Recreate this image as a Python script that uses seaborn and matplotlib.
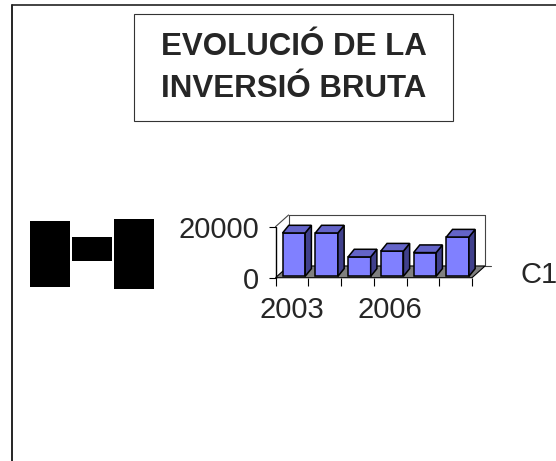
import numpy as np
import pandas as pd
import matplotlib
matplotlib.use("Agg")
import matplotlib.pyplot as plt
import matplotlib.transforms as mtransforms
from matplotlib.patches import Rectangle, Polygon
from matplotlib.lines import Line2D
import seaborn as sns

# ---------------- data ----------------
years = ["2003", "2004", "2005", "2006", "2007", "2008"]
inversio = [17000, 17000, 7600, 9900, 9300, 15400]
shown_years = ["2003", "2006"]
y_ticks = [0, 20000]
series_name = "C1"
title = "EVOLUCIÓ DE LA\nINVERSIÓ BRUTA"

# ---------------- style ----------------
FRONT = "#8080FF"
TOP = "#6464C8"
SIDE = "#40408C"
FLOOR = "#808080"
FS = 21

sns.set_style("white")
plt.rcParams["font.family"] = ["Liberation Sans", "DejaVu Sans"]

W, H = 556, 461
fig = plt.figure(figsize=(W / 100, H / 100), dpi=100)


def fx(x):
    return x / W


def fy(y):
    return 1 - y / H


# frame lines (top + left)
fig.add_artist(Line2D([fx(12), fx(12)], [0, fy(5)], color="black", lw=1.2,
                      transform=fig.transFigure))
fig.add_artist(Line2D([fx(12), 1], [fy(5), fy(5)], color="#222222", lw=1.2,
                      transform=fig.transFigure))

# title box
fig.add_artist(Rectangle((fx(134), fy(121)), (453 - 134) / W, (121 - 14) / H,
                         transform=fig.transFigure, fill=False,
                         edgecolor="#333333", lw=0.8))
fig.text(fx(293.5), fy(68), title, ha="center", va="center", fontsize=22.5,
         fontweight="bold", linespacing=1.5, multialignment="center")

# black blocks at the left
for x0, y0, x1, y1 in [(30, 220.7, 70, 287.3), (72, 236.7, 112, 261),
                       (114, 219, 154, 289)]:
    fig.add_artist(Rectangle((fx(x0), fy(y1)), (x1 - x0) / W, (y1 - y0) / H,
                             transform=fig.transFigure, facecolor="black",
                             edgecolor="none"))

# ---------------- chart ----------------
ax = fig.add_axes([fx(275.5), fy(277.7), (472 - 275.5) / W, 51 / H])
df = pd.DataFrame({"year": years, "value": inversio})

bar_w = 0.69
sns.barplot(data=df, x="year", y="value", color=FRONT, saturation=1,
            width=bar_w, edgecolor="black", linewidth=1.1, errorbar=None,
            ax=ax, zorder=3)
ax.set_xlim(-0.5, len(years) - 0.5)
ax.set_ylim(y_ticks[0], y_ticks[-1])
ax.set_xlabel("")
ax.set_ylabel("")
for s in ax.spines.values():
    s.set_visible(False)

# bars sit a bit back in depth
shift = mtransforms.offset_copy(ax.transData, fig=fig, x=2, y=1.4, units="dots")
for p in ax.patches:
    p.set_transform(shift)
    p.set_clip_on(False)

# 3d faces of the bars
bdx, bdy = 0.19, 3000
for i, v in enumerate(inversio):
    x0, x1 = i - bar_w / 2, i + bar_w / 2
    top = [(x0, v), (x1, v), (x1 + bdx, v + bdy), (x0 + bdx, v + bdy)]
    side = [(x1, 0), (x1, v), (x1 + bdx, v + bdy), (x1 + bdx, bdy)]
    ax.add_patch(Polygon(side, facecolor=SIDE, edgecolor="black", lw=1.1,
                         transform=shift, zorder=3, clip_on=False))
    ax.add_patch(Polygon(top, facecolor=TOP, edgecolor="black", lw=1.1,
                         transform=shift, zorder=3, clip_on=False))

# floor and walls
wdx, wdy = 0.4, 4600
xl, xr = -0.5, len(years) - 0.5
ytop = y_ticks[-1]
ax.add_patch(Polygon([(xl, 0), (xr, 0), (xr + wdx, wdy), (xl + wdx, wdy)],
                     facecolor=FLOOR, edgecolor="black", lw=0.8, zorder=1,
                     clip_on=False))
wall = dict(color="#444444", lw=0.8, clip_on=False, zorder=0.5)
ax.plot([xl + wdx, xl + wdx], [wdy, ytop + wdy], **wall)
ax.plot([xl + wdx, xr + wdx], [ytop + wdy, ytop + wdy], **wall)
ax.plot([xr + wdx, xr + wdx], [wdy, ytop + wdy], **wall)
ax.plot([xr + wdx, xr + wdx + 0.18], [wdy, wdy], **wall)
ax.plot([xl, xl + wdx], [ytop, ytop + wdy], **wall)
ax.plot([xl, xl], [0, ytop], color="black", lw=1, clip_on=False, zorder=2)

# ticks
ax.set_yticks(y_ticks)
ax.set_yticklabels([str(t) for t in y_ticks], fontsize=FS)
ax.set_xticks([years.index(y) for y in shown_years])
ax.set_xticklabels(shown_years, fontsize=FS)
ax.set_xticks(np.arange(-0.5, len(years)), minor=True)
ax.tick_params(axis="y", which="major", left=True, length=5, width=0.8,
               pad=7, direction="out", color="black")
ax.tick_params(axis="x", which="major", bottom=True, length=0, pad=13)
ax.tick_params(axis="x", which="minor", bottom=True, length=6, width=0.8,
               direction="out", color="black")

fig.text(fx(520), fy(275), series_name, ha="left", va="center", fontsize=FS)

fig.savefig("out.png", dpi=100)
